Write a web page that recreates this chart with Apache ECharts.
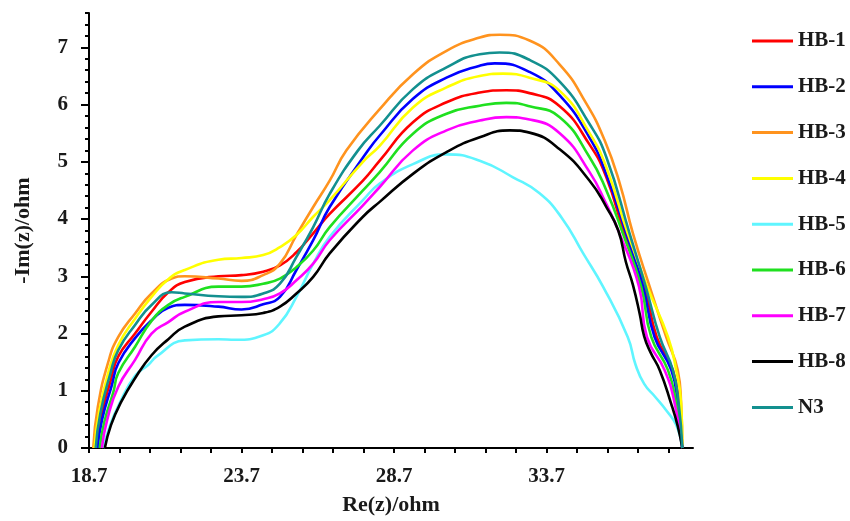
<!DOCTYPE html>
<html>
<head>
<meta charset="utf-8">
<script src="https://cdn.jsdelivr.net/npm/echarts@6/dist/echarts.min.js"></script>
<style>
  html, body { margin: 0; padding: 0; background: #fff; }
  #chart { width: 850px; height: 521px; }
</style>
</head>
<body>
<div id="chart"></div>
<script>
// Nyquist data: [Re(z), -Im(z)] pairs per sample
const names = ["HB-1", "HB-2", "HB-3", "HB-4", "HB-5", "HB-6", "HB-7", "HB-8", "N3"];
const colors = ["#ff0000", "#0000ff", "#ff931e", "#ffff00", "#5ff5ff", "#1fe01f", "#ff00ff", "#000000", "#13908f"];

const hb1 = [[18.95,0],[19.1,0.55],[19.42,1.2],[19.66,1.6],[20.21,2.0],[20.75,2.38],[21.3,2.72],[21.84,2.9],[22.94,3.0],[23.7,3.02],[24.41,3.08],[24.96,3.19],[25.5,3.42],[26.05,3.75],[26.59,4.09],[27.68,4.67],[28.23,5.02],[29.32,5.69],[30.42,6.04],[31.51,6.21],[32.38,6.25],[33.14,6.2],[34.13,5.97],[35.11,5.3],[35.66,4.73],[36.25,3.75],[36.91,2.82],[37.31,1.94],[37.84,1.36],[38.03,0.78],[38.15,0]];
const hb2 = [[18.98,0],[19.13,0.5],[19.45,1.1],[19.66,1.48],[20.21,1.92],[20.75,2.23],[21.3,2.45],[21.84,2.5],[22.94,2.47],[23.7,2.42],[24.41,2.51],[24.96,2.64],[25.5,3.11],[26.05,3.63],[26.59,4.21],[27.85,5.2],[28.23,5.46],[29.32,6.1],[30.42,6.47],[31.51,6.68],[32.0,6.72],[33.14,6.57],[34.13,6.16],[35.11,5.42],[35.66,4.78],[36.31,3.75],[36.86,2.82],[37.24,1.94],[37.79,1.36],[38.0,0.78],[38.15,0]];
const hb3 = [[18.84,0],[18.99,0.72],[19.33,1.5],[19.66,1.94],[20.21,2.35],[20.75,2.7],[21.41,2.96],[21.84,3.0],[22.94,2.96],[23.7,2.92],[24.41,3.02],[24.96,3.22],[25.5,3.72],[26.05,4.21],[26.59,4.67],[27.14,5.2],[28.23,5.92],[29.32,6.53],[30.42,6.94],[31.51,7.17],[32.16,7.22],[33.14,7.12],[34.13,6.7],[35.0,6.02],[35.6,5.38],[36.1,4.62],[36.53,3.75],[37.08,2.82],[37.62,1.94],[38.0,1.36],[38.11,0.78],[38.15,0]];
const hb4 = [[18.88,0],[19.03,0.62],[19.35,1.35],[19.66,1.8],[20.21,2.26],[20.75,2.64],[21.3,2.95],[21.84,3.11],[22.94,3.29],[23.7,3.32],[24.41,3.37],[24.96,3.51],[25.5,3.72],[26.05,4.04],[26.59,4.33],[27.68,5.0],[28.23,5.28],[29.32,5.95],[30.42,6.3],[31.51,6.5],[32.27,6.54],[33.14,6.47],[34.13,6.24],[35.11,5.5],[35.66,4.9],[36.36,3.75],[37.0,2.82],[37.68,1.94],[37.95,1.36],[38.11,0.78],[38.15,0]];
const hb5 = [[19.18,0],[19.38,0.38],[19.7,0.78],[20.21,1.26],[20.64,1.45],[20.92,1.6],[21.84,1.88],[22.94,1.9],[23.5,1.89],[24.41,1.97],[24.96,2.18],[25.5,2.64],[26.05,3.22],[26.59,3.69],[27.68,4.33],[28.23,4.62],[29.32,4.96],[30.42,5.13],[31.51,5.02],[32.6,4.73],[33.47,4.45],[34.2,4.02],[34.9,3.4],[35.55,2.82],[36.36,1.94],[36.62,1.45],[36.9,1.12],[37.25,0.9],[37.62,0.66],[37.95,0.4],[38.15,0]];
const hb6 = [[19.05,0],[19.2,0.45],[19.5,0.98],[19.66,1.31],[20.21,1.77],[20.75,2.22],[21.3,2.5],[21.84,2.64],[22.94,2.82],[23.7,2.82],[24.41,2.87],[24.96,2.96],[25.5,3.16],[26.05,3.45],[26.59,3.86],[27.68,4.5],[28.23,4.82],[29.32,5.49],[30.42,5.84],[31.51,5.98],[32.38,6.03],[33.14,5.97],[34.13,5.78],[35.11,5.08],[35.66,4.5],[36.2,3.75],[36.8,2.82],[37.13,1.94],[37.68,1.36],[37.95,0.78],[38.15,0]];
const hb7 = [[19.12,0],[19.3,0.5],[19.66,1.07],[20.21,1.54],[20.75,2.0],[21.3,2.2],[21.84,2.38],[22.94,2.55],[23.7,2.55],[24.41,2.6],[24.96,2.7],[25.5,2.93],[26.05,3.22],[26.59,3.63],[27.68,4.24],[28.23,4.56],[29.32,5.2],[30.42,5.55],[31.51,5.72],[32.38,5.78],[33.14,5.74],[34.13,5.5],[35.11,4.82],[35.66,4.26],[36.09,3.75],[36.73,2.82],[36.99,1.94],[37.57,1.36],[37.9,0.78],[38.15,0]];
const hb8 = [[19.22,0],[19.42,0.4],[19.75,0.8],[20.21,1.22],[20.75,1.62],[21.3,1.9],[21.84,2.12],[22.94,2.3],[23.7,2.32],[24.41,2.36],[24.96,2.47],[25.5,2.7],[26.05,2.99],[26.59,3.4],[27.68,4.04],[28.23,4.3],[29.32,4.79],[30.42,5.17],[31.51,5.43],[32.49,5.55],[33.14,5.51],[34.13,5.22],[35.11,4.67],[35.66,4.21],[36.05,3.8],[36.3,3.25],[36.53,2.85],[36.75,2.35],[36.9,1.95],[37.1,1.68],[37.41,1.36],[37.78,0.78],[38.0,0.38],[38.15,0]];
const n3 = [[18.92,0],[19.07,0.6],[19.4,1.3],[19.66,1.71],[20.21,2.15],[20.75,2.5],[21.41,2.72],[21.84,2.7],[22.94,2.65],[23.7,2.64],[24.41,2.7],[24.96,2.87],[25.5,3.34],[26.05,3.86],[26.59,4.44],[27.52,5.2],[28.23,5.63],[29.32,6.27],[30.42,6.65],[31.51,6.88],[32.16,6.91],[33.14,6.78],[34.13,6.4],[35.11,5.66],[35.66,5.08],[36.42,3.75],[36.95,2.82],[37.41,1.94],[37.84,1.36],[38.03,0.78],[38.15,0]];
const seriesData = [hb1, hb2, hb3, hb4, hb5, hb6, hb7, hb8, n3];

// tick positions
const xTicks = [18.7, 19.7, 20.7, 21.7, 22.7, 23.7, 24.7, 25.7, 26.7, 27.7, 28.7, 29.7, 30.7, 31.7, 32.7, 33.7, 34.7, 35.7, 36.7, 37.7];
const xLabels = [18.7, 23.7, 28.7, 33.7];
const yMajor = [0, 1, 2, 3, 4, 5, 6, 7];
const yMinor = [];
for (let i = 0; i <= 38; i++) yMinor.push(+(i * 0.2).toFixed(1));

const font = "'Liberation Serif', 'Times New Roman', serif";
const chart = echarts.init(document.getElementById("chart"));

chart.setOption({
  animation: false,
  backgroundColor: "#fff",
  grid: { left: 89, right: 157, top: 13, bottom: 73 },
  legend: {
    orient: "vertical",
    left: 752,
    top: 30,
    padding: 0,
    icon: "rect",
    itemWidth: 41,
    itemHeight: 3,
    itemGap: 23.8,
    data: names,
    textStyle: { fontFamily: font, fontWeight: "bold", fontSize: 21, color: "#1a1a1a", lineHeight: 22 }
  },
  xAxis: {
    type: "value",
    min: 18.7,
    max: 38.5,
    name: "Re(z)/ohm",
    nameLocation: "middle",
    nameGap: 46,
    nameTextStyle: { fontFamily: font, fontWeight: "bold", fontSize: 22, color: "#1a1a1a" },
    axisLine: { lineStyle: { color: "#000", width: 2 } },
    axisTick: { customValues: xTicks, length: 5, lineStyle: { color: "#000", width: 2 } },
    axisLabel: {
      customValues: xLabels,
      margin: 18,
      fontFamily: font, fontWeight: "bold", fontSize: 21, color: "#1a1a1a",
      formatter: (v) => v.toFixed(1)
    },
    splitLine: { show: false }
  },
  yAxis: [
    {
      type: "value",
      min: 0,
      max: 7.6,
      name: "-Im(z)/ohm",
      nameLocation: "middle",
      nameGap: 55,
      nameRotate: 90,
      nameTextStyle: { fontFamily: font, fontWeight: "bold", fontSize: 22, color: "#1a1a1a" },
      axisLine: { lineStyle: { color: "#000", width: 2 } },
      axisTick: { customValues: yMinor, length: 4, lineStyle: { color: "#000", width: 2 } },
      axisLabel: { show: false },
      splitLine: { show: false }
    },
    {
      type: "value",
      position: "left",
      min: 0,
      max: 7.6,
      axisLine: { show: false },
      axisTick: { customValues: yMajor, length: 8, lineStyle: { color: "#000", width: 2 } },
      axisLabel: {
        customValues: yMajor,
        margin: 21,
        fontFamily: font, fontWeight: "bold", fontSize: 21, color: "#1a1a1a"
      },
      splitLine: { show: false }
    }
  ],
  series: names.map((n, i) => ({
    name: n,
    type: "line",
    data: seriesData[i],
    yAxisIndex: 0,
    showSymbol: false,
    symbol: "none",
    smooth: 0.5,
    color: colors[i],
    lineStyle: { color: colors[i], width: 2.6 }
  }))
});
</script>
</body>
</html>
